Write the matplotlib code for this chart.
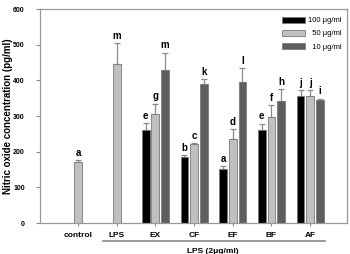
import numpy as np
import matplotlib
matplotlib.use('Agg')
import matplotlib.pyplot as plt
from matplotlib.transforms import blended_transform_factory

plt.rcParams['font.family'] = ['Liberation Sans', 'DejaVu Sans']

# values
groups = ['control', 'LPS', 'EX', 'CF', 'EF', 'BF', 'AF']
series = ['100 \u03bcg/ml', '  50 \u03bcg/ml', '  10 \u03bcg/ml']

no_100 = [np.nan, np.nan, 260, 186, 151, 260, 356]
err_100 = [np.nan, np.nan, 21, 5, 10, 19, 16]
sig_100 = ['', '', 'e', 'b', 'a', 'e', 'j']

no_50 = [170, 445, 306, 221, 235, 298, 355]
err_50 = [6, 60, 29, 4, 28, 34, 17]
sig_50 = ['a', 'm', 'g', 'c', 'd', 'f', 'j']

no_10 = [np.nan, np.nan, 430, 390, 395, 342, 345]
err_10 = [np.nan, np.nan, 48, 14, 39, 33, 4]
sig_10 = ['', '', 'm', 'k', 'l', 'h', 'i']

colors = ['#000000', '#c0c0c0', '#5e5e5e']
edge = '#7a7a7a'

fig = plt.figure(figsize=(3.5, 2.54), dpi=100)
ax = fig.add_axes([0.1143, 0.122, 0.877, 0.8425])

x = np.arange(len(groups))
width = 0.2
offsets = [-0.25, 0, 0.25]
all_vals = [no_100, no_50, no_10]
all_errs = [err_100, err_50, err_10]
all_sigs = [sig_100, sig_50, sig_10]

for vals, errs, sigs, off, col, lab in zip(all_vals, all_errs, all_sigs, offsets, colors, series):
    vals = np.array(vals, dtype=float)
    errs = np.array(errs, dtype=float)
    ax.bar(x + off, vals, width, color=col, edgecolor=edge, linewidth=0.6, label=lab, zorder=2)
    ax.errorbar(x + off, vals, yerr=[np.zeros_like(errs), errs], fmt='none',
                ecolor='#8a8a8a', elinewidth=0.9, capsize=2.2, capthick=0.9, zorder=1)
    for xi, v, e, s in zip(x + off, vals, errs, sigs):
        if s:
            ax.annotate(s, (xi, v + e), xytext=(0, 1.5), textcoords='offset points',
                        ha='center', va='bottom', fontsize=7, fontweight='bold')

ax.set_xlim(-0.98, 6.95)
ax.set_ylim(0, 600)
ax.set_yticks([0, 100, 200, 300, 400, 500, 600])
ax.set_xticks(x)
ax.set_xticklabels(groups, fontsize=6, fontweight='bold')
for t in ax.get_yticklabels():
    t.set_fontsize(5)
    t.set_fontweight('bold')
ax.tick_params(axis='y', length=3, pad=8, color='#888888', width=0.8)
ax.tick_params(axis='x', length=2.5, pad=4, color='#888888', width=0.8)
for sp in ax.spines.values():
    sp.set_color('#999999')
    sp.set_linewidth(0.9)

ax.set_ylabel('Nitric oxide concentration (pg/ml)', fontsize=7, fontweight='bold')
ax.yaxis.set_label_coords(-0.088, 0.5)

trans = blended_transform_factory(ax.transData, ax.transAxes)
ax.plot([0.65, 6.38], [-0.084, -0.084], color='#888888', lw=1.2, transform=trans, clip_on=False)
ax.text(3.49, -0.131, 'LPS (2\u03bcg/ml)', transform=trans, ha='center', va='center',
        fontsize=6, fontweight='bold')

ax.legend(loc='upper right', bbox_to_anchor=(1.0, 0.99), frameon=False, fontsize=5.5,
          handlelength=3.0, handleheight=0.9, labelspacing=0.7, handletextpad=0.4,
          borderaxespad=0.3)

fig.savefig('out.png', dpi=100)
